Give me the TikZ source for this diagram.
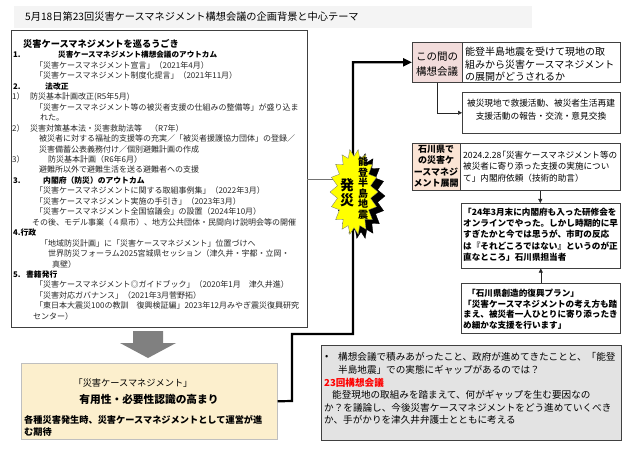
\documentclass[tikz,border=0pt]{standalone}
\usepackage{fontspec}
\setmainfont{Noto Sans CJK JP}
\usetikzlibrary{arrows.meta}
\definecolor{pinkA}{HTML}{F2DCDB}
\definecolor{beigeC}{HTML}{FBE4D5}
\definecolor{beigeBig}{HTML}{FCEFCD}
\definecolor{grayBox}{HTML}{E3E3E3}
\definecolor{edge}{HTML}{404040}
\definecolor{titleband}{HTML}{F4F4F4}
\definecolor{blockarrow}{HTML}{808080}
\definecolor{burstyellow}{HTML}{FFFF00}
\newcommand\fs[2]{\fontsize{#1}{#2}\selectfont}
\begin{document}
\begin{tikzpicture}[x=1pt,y=-1pt,
  box/.style={draw=edge, line width=0.6pt, inner sep=0pt, anchor=north west, fill=white},
  tx/.style={inner sep=0pt, anchor=west, text=black},
  mc/.style={tx, font=\fs{8}{8}, text=black!85},
  hb/.style={tx, font=\fs{7.8}{8}\bfseries},
  blk/.style={inner sep=0pt, anchor=north west, align=left},
  smallarrow/.style={line width=0.5pt, draw=black!85, -{Triangle[length=4pt,width=4pt]}},
  bigline/.style={line width=2.2pt, draw=black, line join=miter, -{Triangle[length=9pt,width=8pt]}},
  thinline/.style={line width=0.6pt, draw=black!55}
]
\useasboundingbox (0,0) rectangle (640,449);
\fill[white] (0,0) rectangle (640,449);

% title
\node[fill=titleband, inner sep=0pt, minimum width=518pt, minimum height=22pt, anchor=north west] (band) at (14,6) {};
\node[tx, font=\fs{10.2}{11}] (title) at (25,17) {5月18日第23回災害ケースマネジメント構想会議の企画背景と中心テーマ};

% left box
\node[box, minimum width=296pt, minimum height=297pt] (leftbox) at (11,30) {};
\node[tx, font=\fs{9.2}{10}\bfseries] (h0) at (23,43.5) {災害ケースマネジメントを巡るうごき};
\node[hb] (n1) at (13,55) {1.};
\node[hb, font=\fs{7.6}{8}\bfseries] (h1) at (58,55) {災害ケースマネジメント構想会議のアウトカム};
\node[mc] (l2) at (35,65.45) {「災害ケースマネジメント宣言」（2021年4月）};
\node[mc] (l3) at (35,75.9) {「災害ケースマネジメント制度化提言」（2021年11月）};
\node[hb] (n4) at (13,86.35) {2.};
\node[hb] (h4) at (45,86.35) {法改正};
\node[mc] (n5) at (12,96.8) {1）};
\node[mc] (l5) at (30,96.8) {防災基本計画改正(R5年5月)};
\node[mc] (l6) at (35,107.25) {「災害ケースマネジメント等の被災者支援の仕組みの整備等」が盛り込ま};
\node[mc] (l7) at (40,117.7) {れた。};
\node[mc] (n8) at (12,128.15) {2）};
\node[mc] (l8) at (30,128.15) {災害対策基本法・災害救助法等　（R7年）};
\node[mc] (l9) at (39,138.6) {被災者に対する福祉的支援等の充実／「被災者援護協力団体」の登録／};
\node[mc] (l10) at (39,149.05) {災害備蓄公表義務付け／個別避難計画の作成};
\node[mc] (n11) at (12,159.5) {3）};
\node[mc] (l11) at (48,159.5) {防災基本計画（R6年6月）};
\node[mc] (l12) at (39,169.95) {避難所以外で避難生活を送る避難者への支援};
\node[hb] (n13) at (13,180.4) {3.};
\node[hb] (h13) at (43,180.4) {内閣府（防災）のアウトカム};
\node[mc] (l14) at (35,190.85) {「災害ケースマネジメントに関する取組事例集」（2022年3月）};
\node[mc] (l15) at (35,201.3) {「災害ケースマネジメント実施の手引き」（2023年3月）};
\node[mc] (l16) at (35,211.75) {「災害ケースマネジメント全国協議会」の設置（2024年10月）};
\node[mc] (l17) at (32,222.2) {その後、モデル事業（４県市）、地方公共団体・民間向け説明会等の開催};
\node[hb] (h18) at (13,232.65) {4.行政};
\node[mc] (l19) at (40,243.1) {「地域防災計画」に「災害ケースマネジメント」位置づけへ};
\node[mc] (l20) at (48,253.55) {世界防災フォーラム2025宮城県セッション（津久井・宇都・立岡・};
\node[mc] (l21) at (52,264) {真壁）};
\node[hb] (n22) at (13,274.45) {5.};
\node[hb] (h22) at (26,274.45) {書籍発行};
\node[mc] (l23) at (35,284.9) {「災害ケースマネジメント◎ガイドブック」（2020年1月　津久井進）};
\node[mc] (l24) at (35,295.35) {「災害対応ガバナンス」（2021年3月菅野拓）};
\node[mc] (l25) at (35,305.8) {「東日本大震災100の教訓　復興検証編」2023年12月みやぎ震災復興研究};
\node[mc] (l26) at (33,316.25) {センター）};

% block arrow
\fill[blockarrow] (133,331) -- (163,331) -- (163,343) -- (176,343) -- (148,358) -- (120,343) -- (133,343) -- cycle;

% beige box
\node[box, draw=black!25, fill=beigeBig, minimum width=256pt, minimum height=76pt] (beige) at (21,363) {};
\node[inner sep=0pt, font=\fs{9.2}{10}] (b1) at (133,383) {「災害ケースマネジメント」};
\node[inner sep=0pt, font=\fs{10.7}{11}\bfseries] (b2) at (149,399) {有用性・必要性認識の高まり};
\node[blk, font=\fs{9.2}{12}\bfseries] (b3) at (24,415.4) {各種災害発生時、災害ケースマネジメントとして運営が進\\む期待};

% right boxes
\node[box, fill=pinkA, minimum width=50pt, minimum height=40pt] (pinkA) at (412,42) {};
\node[inner sep=0pt, anchor=north, align=center, font=\fs{10.5}{15}] (pinkT) at (437,51.8) {この間の\\構想会議};
\node[box, minimum width=158pt, minimum height=40pt] (boxA) at (462,42) {};
\node[blk, font=\fs{10}{12.5}] (boxAT) at (465,47) {能登半島地震を受けて現地の取\\組みから災害ケースマネジメント\\の展開がどうされるか};

\node[box, minimum width=158pt, minimum height=41pt] (boxB) at (462,92) {};
\node[inner sep=0pt, anchor=north, align=center, font=\fs{8.7}{13}] (boxBT) at (541,98.6) {被災現地で救援活動、被災者生活再建\\支援活動の報告・交流・意見交換};

\node[box, fill=beigeC, minimum width=48pt, minimum height=47pt] (boxC) at (412,143) {};
\node[inner sep=0pt, anchor=north, align=center, font=\fs{9}{11.3}\bfseries] (boxCT) at (436,145) {石川県で\\の災害ケ\\ースマネジ\\メント展開};
\node[box, minimum width=160pt, minimum height=47pt] (boxD) at (460,143) {};
\node[blk, font=\fs{8.6}{11.7}] (boxDT) at (463,150.7) {2024.2.28\hspace{-0.45em}「災害ケースマネジメント等の\\被災者に寄り添った支援の実施につい\\て」内閣府依頼（技術的助言）};

\node[box, minimum width=159pt, minimum height=65pt] (boxE) at (461,203) {};
\node[blk, font=\fs{8.6}{11.3}\bfseries] (boxET) at (463,207.7) {「24年3月末に内閣府も入った研修会を\\オンラインでやった。しかし時期的に早\\すぎたかと今では思うが、市町の反応\\は『それどころではない』というのが正\\直なところ」石川県担当者};

\node[box, minimum width=159pt, minimum height=50pt] (boxF) at (461,283) {};
\node[blk, font=\fs{8.6}{10.8}\bfseries] (boxFT) at (463,288.7) {\hspace{4pt}「石川県創造的復興プラン」\\「災害ケースマネジメントの考え方も踏\\まえ、被災者一人ひとりに寄り添ったき\\め細かな支援を行います」};

% gray box
\node[box, fill=grayBox, minimum width=300pt, minimum height=95pt] (grayB) at (321,345) {};
\node[tx, font=\fs{9.6}{10}] (bullet) at (325,357) {•};
\node[blk, font=\fs{9.6}{12.7}] (g1) at (338,352.2) {構想会議で積みあがったこと、政府が進めてきたことと、「能登\\半島地震」での実態にギャップがあるのでは？};
\node[tx, font=\fs{9.6}{10}\bfseries, text=red] (g3) at (324,383) {23回構想会議};
\node[blk, font=\fs{9.6}{12.7}] (g4) at (324,390.2) {\hspace{8pt}能登現地の取組みを踏まえて、何がギャップを生む要因なの\\か？を議論し、今後災害ケースマネジメントをどう進めていくべき\\か、手がかりを津久井弁護士とともに考える};

% connectors
\coordinate (c1) at (292,401);
\coordinate (c2) at (292,334);
\coordinate (c3) at (353,334);
\draw[bigline] (beige.east) -- (c1) -- (c2) -- (c3) |- (pinkA.west);
\coordinate (t1) at (307,179);
\coordinate (t2) at (345,179);
\draw[thinline] (t1) -- (t2);
\draw[smallarrow] (pinkA.south) |- (boxB.west);
\draw[smallarrow] (boxD.south) -- (boxD.south |- boxE.north);
\draw[smallarrow] (boxF.north) -- (boxF.north |- boxE.south);

% burst: black shadow, then yellow star
\foreach \sx/\sy/\col/\ed in {361/196/black/black, 354/192/burstyellow/black!55}{
  \filldraw[shift={(\sx,\sy)}, fill=\col, draw=\ed, line width=0.3pt, line join=miter]
    (24,0) -- (16.55,6.21) -- (22.56,14.71) -- (14.55,17.85) -- (18.38,27.65) -- (10.80,27.35)
    -- (12,37.24) -- (5.75,33.56) -- (4.18,42.35) -- (0,35.7) -- (-4.18,42.35) -- (-5.75,33.56)
    -- (-12,37.24) -- (-10.80,27.35) -- (-18.38,27.65) -- (-14.55,17.85) -- (-22.56,14.71) -- (-16.55,6.21)
    -- (-24,0) -- (-16.55,-6.21) -- (-22.56,-14.71) -- (-14.55,-17.85) -- (-18.38,-27.65) -- (-10.80,-27.35)
    -- (-12,-37.24) -- (-5.75,-33.56) -- (-4.18,-42.35) -- (0,-35.7) -- (4.18,-42.35) -- (5.75,-33.56)
    -- (12,-37.24) -- (10.80,-27.35) -- (18.38,-27.65) -- (14.55,-17.85) -- (22.56,-14.71) -- (16.55,-6.21) -- cycle;
}
\node[inner sep=0pt, align=center, font=\fs{14}{15}\bfseries] (hassai) at (347,193) {発\\災};
\node[inner sep=0pt, align=center, font=\fs{10}{10.5}\bfseries] (noto) at (363,188) {能\\登\\半\\島\\地\\震};
\end{tikzpicture}
\end{document}
